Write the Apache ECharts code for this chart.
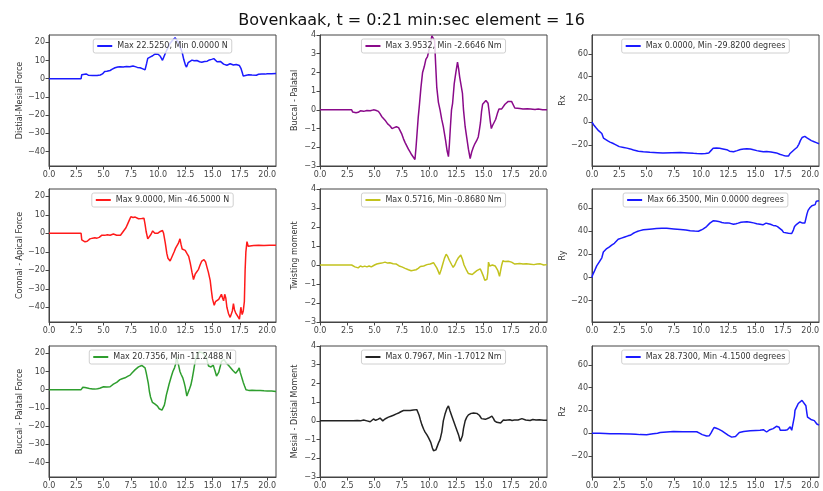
<!DOCTYPE html>
<html><head><meta charset="utf-8">
<script src="https://cdn.jsdelivr.net/npm/echarts/dist/echarts.min.js"></script>
<style>html,body{margin:0;padding:0;background:#fff}#c{width:823px;height:491px}</style>
</head><body><div id="c"></div>
<script>
const titleText = 'Bovenkaak, t = 0:21 min:sec element = 16';
const xTicks = [0, 2.5, 5, 7.5, 10, 12.5, 15, 17.5, 20];
const forceTicks = [-40, -30, -20, -10, 0, 10, 20];
const momentTicks = [-3, -2, -1, 0, 1, 2, 3, 4];
const angleTicks = [-20, 0, 20, 40, 60];

const distalMesial = [[0,0],[2.94,0],[3.0,2.2],[3.1,2.5],[3.4,2.6],[3.6,1.9],[4.0,1.8],[4.4,1.7],[4.7,2.0],[4.9,2.6],[5.1,3.9],[5.3,4.1],[5.6,4.5],[5.8,5.2],[6.05,6.0],[6.3,6.4],[6.5,6.6],[6.8,6.4],[7.1,6.7],[7.4,6.5],[7.7,7.0],[7.9,6.6],[8.1,6.2],[8.35,6.0],[8.6,5.4],[8.8,4.8],[8.95,8.5],[9.05,11.2],[9.3,12.0],[9.5,12.6],[9.7,13.5],[9.85,13.0],[10.0,13.4],[10.2,12.3],[10.4,10.1],[10.5,10.8],[10.7,14.5],[10.9,17.0],[11.1,19.5],[11.3,21.0],[11.55,22.5],[11.7,21.5],[11.9,19.6],[12.05,16.8],[12.2,14.5],[12.35,10.5],[12.5,7.5],[12.6,6.4],[12.75,8.8],[12.9,9.4],[13.1,10.2],[13.3,9.8],[13.55,10.0],[13.8,9.3],[14.0,9.0],[14.25,9.4],[14.5,9.6],[14.7,10.3],[14.9,10.6],[15.1,11.0],[15.25,10.9],[15.4,9.3],[15.55,9.0],[15.7,9.5],[15.85,8.8],[16.0,8.0],[16.15,8.4],[16.3,7.4],[16.45,7.6],[16.6,8.2],[16.75,9.1],[16.9,7.5],[17.0,6.9],[17.15,7.8],[17.3,8.6],[17.45,7.2],[17.6,5.5],[17.7,3.5],[17.8,1.4],[18.0,1.7],[18.3,2.1],[18.6,2.0],[19.0,1.9],[19.2,2.4],[19.5,2.6],[19.8,2.5],[20.0,2.7],[20.1,2.4],[20.4,2.7],[20.8,2.8]];

const buccalPalatalMoment = [[0,0],[2.9,0],[3.0,-0.12],[3.3,-0.15],[3.5,-0.13],[3.7,-0.05],[4.0,-0.08],[4.3,-0.03],[4.6,-0.05],[4.9,0.0],[5.1,-0.02],[5.35,-0.08],[5.5,-0.2],[5.65,-0.35],[5.8,-0.45],[5.96,-0.55],[6.2,-0.75],[6.4,-0.85],[6.6,-1.0],[6.8,-0.95],[7.0,-0.9],[7.2,-0.95],[7.35,-1.05],[7.5,-1.3],[7.65,-1.55],[7.8,-1.75],[7.95,-1.85],[8.1,-2.1],[8.25,-2.25],[8.4,-2.4],[8.55,-2.5],[8.7,-2.65],[8.8,-2.0],[8.9,-1.2],[9.0,-0.4],[9.1,0.2],[9.25,1.2],[9.4,2.0],[9.55,2.3],[9.7,2.7],[9.85,2.85],[9.95,3.1],[10.1,3.5],[10.25,3.95],[10.4,3.9],[10.5,3.7],[10.6,2.4],[10.7,1.2],[10.85,0.4],[11.0,0.0],[11.15,-0.5],[11.3,-0.9],[11.5,-1.6],[11.65,-2.2],[11.77,-2.5],[11.85,-1.9],[11.95,-0.9],[12.05,0.0],[12.15,0.35],[12.3,1.4],[12.45,2.0],[12.6,2.55],[12.7,2.2],[12.8,1.75],[12.95,1.7],[13.05,0.9],[13.15,0.0],[13.3,-0.9],[13.45,-1.5],[13.6,-2.1],[13.76,-2.6],[13.9,-2.25],[14.05,-2.0],[14.2,-1.8],[14.35,-1.65],[14.5,-1.45],[14.6,-1.1],[14.7,-0.7],[14.8,-0.1],[14.9,0.3],[15.05,0.4],[15.2,0.5],[15.3,0.55],[15.4,0.35],[15.5,-0.1],[15.6,-0.6],[15.7,-1.0],[15.8,-0.85],[15.95,-0.85],[16.1,-0.5],[16.25,-0.2],[16.4,0.05],[16.5,0.1],[16.65,0.05],[16.8,0.15],[16.95,0.3],[17.1,0.4],[17.25,0.45],[17.4,0.55],[17.55,0.45],[17.7,0.35],[17.85,0.1],[18.0,0.05],[18.3,0.07],[18.6,0.04],[19.0,0.06],[19.3,0.05],[19.7,0.02],[20.0,0.04],[20.4,0.0],[20.8,0.0]];

const rx = [[0,0],[0.2,-3],[0.37,-5],[0.6,-7.5],[0.9,-10],[1.05,-14],[1.2,-15],[1.45,-16.5],[1.65,-17.5],[1.9,-18.5],[2.1,-19.5],[2.25,-20.5],[2.5,-21.5],[2.9,-22.2],[3.2,-22.8],[3.5,-23.5],[3.8,-24.5],[4.25,-25.5],[4.7,-26],[5.3,-26.5],[6.0,-26.8],[6.5,-27],[7.3,-26.8],[8.1,-26.6],[8.8,-27],[9.3,-27.4],[9.6,-27.6],[10.06,-27.8],[10.4,-27.5],[10.7,-27],[10.9,-25],[11.1,-23],[11.4,-22.7],[11.7,-23],[12.0,-23.5],[12.35,-24.2],[12.6,-25.5],[12.97,-26],[13.3,-25],[13.6,-24],[13.9,-23.5],[14.2,-23.3],[14.5,-23.5],[14.8,-24.3],[15.1,-25],[15.4,-25.5],[15.7,-26],[16.0,-25.8],[16.4,-26.2],[16.9,-27],[17.2,-28.2],[17.55,-29.2],[17.8,-29.82],[18.0,-29.8],[18.15,-27.5],[18.3,-26.5],[18.55,-24],[18.8,-22],[18.95,-19.5],[19.1,-16],[19.25,-13.5],[19.5,-12.5],[19.7,-13.8],[19.85,-15],[20.1,-16.2],[20.3,-17],[20.55,-18],[20.8,-19]];

const coronalApical = [[0,0],[2.94,0],[3.0,-3.5],[3.1,-4.5],[3.3,-4.6],[3.5,-4.3],[3.75,-3.0],[4.0,-2.6],[4.2,-2.4],[4.4,-2.6],[4.6,-2.2],[4.75,-1.8],[4.85,-1.0],[5.1,-1.1],[5.35,-0.8],[5.6,-1.0],[5.9,-0.4],[6.05,0.0],[6.2,-1.0],[6.35,-2.0],[6.55,-1.0],[6.8,1.0],[7.05,3.0],[7.2,5.0],[7.35,7.0],[7.5,9.0],[7.7,8.6],[7.9,8.8],[8.05,8.2],[8.2,7.9],[8.35,7.5],[8.5,8.0],[8.7,8.2],[8.8,5.0],[8.9,1.0],[9.05,-3.0],[9.2,-2.0],[9.35,-0.5],[9.5,1.3],[9.6,1.5],[9.7,0.0],[9.8,-1.0],[9.95,0.0],[10.2,1.0],[10.4,1.5],[10.5,0.0],[10.65,-5.0],[10.8,-11.0],[10.9,-13.5],[11.1,-15.0],[11.25,-14.2],[11.47,-10.0],[11.6,-8.0],[11.7,-7.0],[11.85,-5.5],[12.0,-3.0],[12.1,-6.0],[12.2,-8.5],[12.48,-9.2],[12.65,-11.0],[12.8,-12.5],[12.94,-16.0],[13.1,-21.0],[13.24,-25.0],[13.4,-22.0],[13.55,-21.0],[13.7,-19.5],[13.85,-17.0],[14.0,-15.0],[14.2,-14.2],[14.35,-15.5],[14.46,-18.0],[14.6,-21.0],[14.77,-25.5],[14.88,-31.0],[14.98,-35.5],[15.14,-39.0],[15.25,-37.0],[15.4,-36.0],[15.55,-35.8],[15.7,-35.5],[15.8,-33.0],[15.9,-35.0],[16.0,-36.5],[16.1,-33.0],[16.2,-35.0],[16.3,-40.0],[16.45,-43.5],[16.6,-45.5],[16.7,-46.0],[16.8,-42.0],[16.9,-38.0],[17.0,-41.5],[17.1,-43.0],[17.25,-44.0],[17.45,-46.5],[17.58,-40.0],[17.7,-44.0],[17.8,-42.0],[17.9,-37.0],[17.97,-20.0],[18.04,-10.0],[18.14,-4.5],[18.25,-7.0],[18.4,-6.3],[18.75,-6.6],[19.2,-6.5],[19.7,-6.6],[20.2,-6.5],[20.8,-6.5]];

const twisting = [[0,0],[2.9,0],[3.05,-0.05],[3.2,-0.1],[3.35,-0.05],[3.5,-0.15],[3.7,-0.05],[3.9,-0.1],[4.1,-0.06],[4.3,-0.1],[4.5,-0.05],[4.7,-0.1],[4.85,-0.07],[5.0,0.0],[5.2,0.05],[5.4,0.08],[5.65,0.1],[5.8,0.07],[5.96,0.15],[6.2,0.1],[6.4,0.12],[6.7,0.07],[7.0,0.05],[7.25,-0.05],[7.5,-0.1],[7.8,-0.18],[8.1,-0.25],[8.35,-0.3],[8.56,-0.28],[8.8,-0.25],[9.0,-0.18],[9.2,-0.08],[9.5,-0.05],[9.8,0.02],[10.1,0.05],[10.4,0.12],[10.55,0.05],[10.7,-0.15],[10.85,-0.35],[10.95,-0.5],[11.1,-0.25],[11.25,0.05],[11.4,0.35],[11.56,0.57],[11.7,0.45],[11.85,0.25],[12.08,0.0],[12.2,-0.12],[12.35,0.0],[12.5,0.2],[12.7,0.4],[12.9,0.52],[13.05,0.3],[13.2,0.0],[13.45,-0.3],[13.6,-0.45],[13.76,-0.55],[13.95,-0.5],[14.15,-0.4],[14.37,-0.3],[14.55,-0.25],[14.68,-0.2],[14.8,-0.35],[14.98,-0.6],[15.1,-0.8],[15.2,-0.87],[15.3,-0.75],[15.38,-0.4],[15.44,0.15],[15.55,-0.05],[15.65,-0.1],[15.8,0.0],[15.9,-0.1],[16.05,-0.05],[16.2,-0.1],[16.3,-0.3],[16.45,-0.6],[16.55,-0.3],[16.65,0.0],[16.76,0.22],[16.95,0.18],[17.1,0.15],[17.25,0.2],[17.4,0.2],[17.55,0.15],[17.7,0.1],[17.85,0.05],[18.0,0.05],[18.3,0.08],[18.6,0.05],[18.9,0.06],[19.3,0.04],[19.6,0.02],[19.9,0.05],[20.2,0.06],[20.5,0.0],[20.8,0.02]];

const ry = [[0,0],[0.05,2],[0.2,5],[0.43,10],[0.7,14],[0.9,17],[1.04,22],[1.2,23.5],[1.35,25],[1.6,26.5],[1.8,28],[2.05,29.5],[2.2,30.5],[2.4,33],[2.7,34],[3.0,35],[3.3,36],[3.5,36.5],[3.75,38],[3.95,39],[4.2,40],[4.4,40.5],[4.7,41.2],[5.0,41.5],[5.5,42],[5.9,42.3],[6.4,42.5],[6.85,42.5],[7.5,42],[8.1,41.5],[8.6,41],[9.0,40.5],[9.4,40.2],[9.75,40],[10.0,41],[10.2,42],[10.5,44],[10.65,45.5],[10.8,47],[10.95,48.2],[11.1,49],[11.35,48.8],[11.6,48.5],[11.9,47.5],[12.2,47],[12.45,47.2],[12.66,46.8],[12.97,46],[13.2,46.5],[13.4,47],[13.65,47.8],[13.9,48],[14.2,48.2],[14.5,47.8],[14.8,47.2],[15.1,46.5],[15.4,46],[15.66,45.5],[15.8,46.8],[15.95,47],[16.15,46.5],[16.35,46],[16.6,45],[16.8,44.8],[17.0,44],[17.2,42.5],[17.4,41],[17.55,39],[17.7,38],[18.0,38.2],[18.3,38],[18.35,36.5],[18.45,41],[18.56,44],[18.75,46],[18.9,47],[19.05,48],[19.3,47],[19.5,47],[19.6,47.5],[19.7,55],[19.8,58],[19.94,60],[20.15,62],[20.3,62.5],[20.45,63],[20.55,66],[20.8,66.35]];

const buccalPalatalForce = [[0,0],[2.94,0],[3.0,1.0],[3.1,1.3],[3.3,1.2],[3.45,1.0],[3.7,0.7],[4.0,0.4],[4.2,0.3],[4.45,0.5],[4.65,0.8],[4.8,1.0],[5.0,1.6],[5.15,2.1],[5.3,1.4],[5.45,1.3],[5.6,1.6],[5.75,2.4],[5.9,3.0],[6.05,3.4],[6.2,4.0],[6.35,4.9],[6.5,5.5],[6.7,6.0],[6.97,6.5],[7.2,7.3],[7.43,8.0],[7.6,9.2],[7.74,10.0],[7.9,11.0],[8.04,12.0],[8.2,12.5],[8.35,13.0],[8.5,13.3],[8.65,13.5],[8.8,12.0],[8.9,9.5],[9.0,6.5],[9.1,3.5],[9.2,-1.0],[9.3,-4.0],[9.48,-7.0],[9.72,-8.0],[9.94,-9.0],[10.1,-10.5],[10.18,-11.0],[10.35,-11.25],[10.49,-11.0],[10.57,-8.5],[10.64,-6.5],[10.75,-3.0],[10.9,0.5],[11.0,3.0],[11.1,5.0],[11.22,7.5],[11.35,10.0],[11.5,12.0],[11.6,14.0],[11.7,18.0],[11.8,15.0],[11.87,13.5],[12.0,10.0],[12.1,8.5],[12.26,6.5],[12.38,4.0],[12.48,1.5],[12.63,-3.5],[12.75,-1.5],[12.88,0.5],[13.0,2.5],[13.12,6.0],[13.24,10.0],[13.35,14.0],[13.46,17.0],[13.6,19.5],[13.76,20.7],[13.95,20.5],[14.16,20.0],[14.3,18.5],[14.46,17.0],[14.55,14.5],[14.62,13.0],[14.75,14.0],[14.85,12.5],[14.98,12.0],[15.05,13.5],[15.15,11.5],[15.23,10.0],[15.35,7.5],[15.44,6.5],[15.55,9.5],[15.7,13.0],[15.8,15.5],[15.9,16.0],[16.05,16.5],[16.2,15.0],[16.36,14.0],[16.5,13.0],[16.67,12.0],[16.85,10.5],[16.97,10.0],[17.1,9.0],[17.2,9.2],[17.3,10.5],[17.43,12.0],[17.52,9.5],[17.6,8.0],[17.7,6.0],[17.8,4.0],[17.92,2.0],[18.05,0.0],[18.3,-0.4],[18.6,-0.3],[19.0,-0.5],[19.36,-0.4],[19.7,-0.6],[20.0,-0.7],[20.4,-0.8],[20.8,-1.0]];

const mesialDistal = [[0,0],[3.06,0],[3.4,0.02],[3.7,0.0],[4.0,0.05],[4.3,0.0],[4.6,-0.05],[4.75,0.05],[4.9,0.1],[5.1,0.03],[5.3,0.08],[5.5,0.15],[5.62,0.05],[5.75,0.0],[5.95,0.1],[6.1,0.12],[6.27,0.2],[6.5,0.25],[6.73,0.3],[7.0,0.37],[7.2,0.42],[7.45,0.5],[7.65,0.55],[7.95,0.56],[8.26,0.55],[8.55,0.58],[8.87,0.6],[8.98,0.45],[9.08,0.3],[9.2,0.05],[9.33,-0.2],[9.5,-0.45],[9.63,-0.6],[9.8,-0.75],[9.94,-0.9],[10.15,-1.15],[10.3,-1.45],[10.4,-1.6],[10.5,-1.7],[10.62,-1.55],[10.75,-1.35],[10.88,-1.15],[11.0,-1.0],[11.1,-0.75],[11.16,-0.6],[11.3,0.0],[11.45,0.35],[11.62,0.65],[11.77,0.8],[11.9,0.55],[12.05,0.3],[12.23,0.0],[12.45,-0.35],[12.7,-0.75],[12.85,-1.1],[12.94,-1.2],[13.05,-0.8],[13.15,-0.4],[13.3,0.0],[13.45,0.2],[13.6,0.32],[13.85,0.4],[14.07,0.42],[14.37,0.4],[14.6,0.3],[14.8,0.12],[14.98,0.05],[15.15,0.08],[15.3,0.1],[15.45,0.15],[15.6,0.2],[15.75,0.25],[15.9,0.12],[16.0,0.0],[16.2,-0.08],[16.36,-0.1],[16.55,-0.12],[16.7,-0.05],[16.8,0.05],[16.88,0.12],[17.0,0.03],[17.15,0.0],[17.4,0.06],[17.6,0.02],[17.8,0.04],[17.98,0.12],[18.15,0.05],[18.3,0.08],[18.5,0.12],[18.65,0.03],[18.85,0.05],[19.0,0.1],[19.25,0.02],[19.5,0.07],[19.8,0.04],[20.1,0.06],[20.5,0.03],[20.8,0.03]];

const rz = [[0,0],[0.7,0],[1.2,-0.3],[1.65,-0.6],[2.5,-0.6],[3.5,-0.8],[4.0,-1.0],[4.4,-1.3],[5.0,-1.5],[5.3,-1.0],[5.6,-0.5],[6.0,0.0],[6.24,0.5],[6.85,1.0],[7.46,1.5],[8.3,1.3],[9.0,1.2],[9.6,1.2],[9.85,0.0],[10.1,-1.3],[10.5,-2.5],[10.75,-2.2],[10.9,0.0],[11.07,3.0],[11.2,5.0],[11.4,4.3],[11.6,3.5],[11.9,2.0],[12.2,0.0],[12.5,-2.0],[12.8,-3.5],[12.97,-4.15],[13.15,-3.0],[13.27,-2.0],[13.5,0.5],[13.9,1.5],[14.5,2.0],[15.0,2.3],[15.4,2.5],[15.7,3.0],[15.85,2.0],[16.0,1.0],[16.15,2.2],[16.3,3.0],[16.6,4.0],[16.75,4.5],[16.9,6.0],[17.05,5.0],[17.15,5.2],[17.25,2.5],[17.5,2.6],[17.7,2.5],[17.9,3.0],[18.05,4.5],[18.16,5.5],[18.3,2.5],[18.47,2.5],[18.55,15.0],[18.6,20.0],[18.8,24.0],[18.9,26.0],[19.05,27.5],[19.24,28.73],[19.4,27.0],[19.6,24.0],[19.7,17.0],[19.75,14.0],[19.9,13.0],[20.06,12.0],[20.2,11.5],[20.37,11.0],[20.5,9.5],[20.6,8.0],[20.8,7.0]];

const panelNames = ['Max 22.5250, Min 0.0000 N','Max 3.9532, Min -2.6646 Nm','Max 0.0000, Min -29.8200 degrees',
  'Max 9.0000, Min -46.5000 N','Max 0.5716, Min -0.8680 Nm','Max 66.3500, Min 0.0000 degrees',
  'Max 20.7356, Min -11.2488 N','Max 0.7967, Min -1.7012 Nm','Max 28.7300, Min -4.1500 degrees'];
const yLabels = ['Distial-Mesial Force','Buccal - Palatal','Rx','Coronal - Apical Force','Twisting moment','Ry','Buccal - Palatal Force','Mesial - Distial Moment','Rz'];
const seriesData = [distalMesial, buccalPalatalMoment, rx, coronalApical, twisting, ry, buccalPalatalForce, mesialDistal, rz];
const colors = ['#1a1aff','#8a0a8a','#1a1aff','#ff1a1a','#c2c21e','#1a1aff','#2e9e2e','#222222','#1a1aff'];

// layout
const colLeft = [49, 320, 592];
const colW = 227;
const rowTop = [35, 189, 346];
const rowH = [131, 133, 131];
const yRanges = [[-48, 24], [-3, 4], [-38.5, 76.5]];
const yTickSets = [forceTicks, momentTicks, angleTicks];
const nameGaps = [25, 21, 24];

const FONT = 'DejaVu Sans';
const ctx = document.createElement('canvas').getContext('2d');
ctx.font = '8px "' + FONT + '"';
const minus = v => String(v).replace('-', '\u2212');

const grid = [], xAxis = [], yAxis = [], series = [], legend = [];
for (let i = 0; i < 9; i++) {
  const r = Math.floor(i / 3), c = i % 3;
  grid.push({left: colLeft[c], top: rowTop[r], width: colW, height: rowH[r], show: true, borderColor: '#444', borderWidth: 1, backgroundColor: '#fff'});
  xAxis.push({type: 'value', gridIndex: i, min: 0, max: 20.8,
    axisLine: {show: true, onZero: false, lineStyle: {color: '#444'}},
    axisTick: {show: true, length: 3.5, lineStyle: {color: '#444'}, customValues: xTicks},
    axisLabel: {fontSize: 8, color: '#444', fontFamily: FONT, margin: 5, customValues: xTicks, formatter: v => v.toFixed(1)},
    splitLine: {show: false}});
  yAxis.push({type: 'value', gridIndex: i, min: yRanges[c][0], max: yRanges[c][1],
    name: yLabels[i], nameLocation: 'middle', nameGap: nameGaps[c],
    nameTextStyle: {fontSize: 8, color: '#333', fontFamily: FONT},
    axisLine: {show: true, onZero: false, lineStyle: {color: '#444'}},
    axisTick: {show: true, length: 3.5, lineStyle: {color: '#444'}, customValues: yTickSets[c]},
    axisLabel: {fontSize: 8, color: '#444', fontFamily: FONT, margin: 4, customValues: yTickSets[c], formatter: minus},
    splitLine: {show: false}});
  series.push({type: 'line', name: panelNames[i], xAxisIndex: i, yAxisIndex: i, data: seriesData[i],
    showSymbol: false, symbol: 'none', lineStyle: {width: 1.5, color: colors[i]}, itemStyle: {color: colors[i]}, animation: false});
  const tw = ctx.measureText(panelNames[i]).width;
  const boxW = 4 * 2 + 15 + 5 + tw;
  legend.push({data: [panelNames[i]], selectedMode: false, left: colLeft[c] + colW / 2 - boxW / 2, top: rowTop[r] + 4,
    padding: [3, 4], itemWidth: 15, itemHeight: 2, icon: 'rect', itemGap: 5,
    borderColor: '#d0d0d0', borderWidth: 1, borderRadius: 2, backgroundColor: 'rgba(255,255,255,0.8)',
    textStyle: {fontSize: 8, color: '#333', fontFamily: FONT}});
}

const chart = echarts.init(document.getElementById('c'));
chart.setOption({
  backgroundColor: '#fff',
  animation: false,
  title: {text: titleText, left: 'center', top: 8, textStyle: {fontSize: 16, fontWeight: 'normal', color: '#111', fontFamily: FONT}},
  grid, xAxis, yAxis, series, legend
});
</script></body></html>
